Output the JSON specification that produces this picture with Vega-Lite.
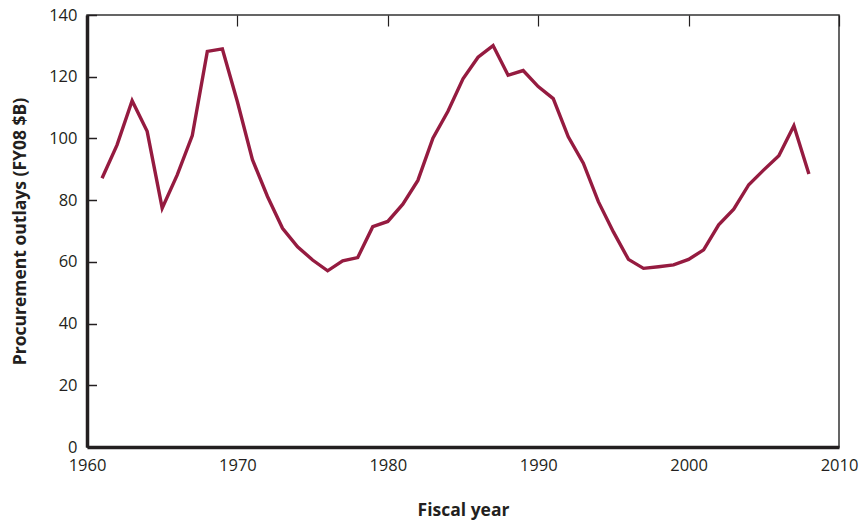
{
  "$schema": "https://vega.github.io/schema/vega-lite/v6.json",
  "width": 752,
  "height": 432,
  "autosize": {"type": "none"},
  "padding": {"left": 87, "top": 15, "right": 23, "bottom": 73},
  "background": "white",
  "config": {
    "font": "Open Sans",
    "view": {"stroke": "#333333", "strokeWidth": 1.5},
    "axis": {
      "labelFont": "Open Sans",
      "titleFont": "Open Sans",
      "labelFontSize": 16.5,
      "titleFontSize": 17.5,
      "labelColor": "#231f20",
      "titleColor": "#231f20",
      "domainColor": "#231f20",
      "tickColor": "#231f20",
      "gridColor": "#231f20",
      "gridOpacity": 1
    }
  },
  "data": {
    "values": [
      {"year": 1961, "outlays": 87.1},
      {"year": 1962, "outlays": 97.9},
      {"year": 1963, "outlays": 112.2},
      {"year": 1964, "outlays": 102.3},
      {"year": 1965, "outlays": 77.4},
      {"year": 1966, "outlays": 88.2},
      {"year": 1967, "outlays": 100.9},
      {"year": 1968, "outlays": 128.2},
      {"year": 1969, "outlays": 129.0},
      {"year": 1970, "outlays": 111.9},
      {"year": 1971, "outlays": 93.1},
      {"year": 1972, "outlays": 81.2},
      {"year": 1973, "outlays": 70.9},
      {"year": 1974, "outlays": 64.9},
      {"year": 1975, "outlays": 60.6},
      {"year": 1976, "outlays": 57.1},
      {"year": 1977, "outlays": 60.3},
      {"year": 1978, "outlays": 61.4},
      {"year": 1979, "outlays": 71.4},
      {"year": 1980, "outlays": 73.1},
      {"year": 1981, "outlays": 78.7},
      {"year": 1982, "outlays": 86.4},
      {"year": 1983, "outlays": 100.1},
      {"year": 1984, "outlays": 108.8},
      {"year": 1985, "outlays": 119.3},
      {"year": 1986, "outlays": 126.3},
      {"year": 1987, "outlays": 130.1},
      {"year": 1988, "outlays": 120.5},
      {"year": 1989, "outlays": 122.0},
      {"year": 1990, "outlays": 116.8},
      {"year": 1991, "outlays": 112.9},
      {"year": 1992, "outlays": 100.5},
      {"year": 1993, "outlays": 92.0},
      {"year": 1994, "outlays": 79.5},
      {"year": 1995, "outlays": 69.7},
      {"year": 1996, "outlays": 60.8},
      {"year": 1997, "outlays": 57.9},
      {"year": 1998, "outlays": 58.4},
      {"year": 1999, "outlays": 59.0},
      {"year": 2000, "outlays": 60.8},
      {"year": 2001, "outlays": 63.9},
      {"year": 2002, "outlays": 72.0},
      {"year": 2003, "outlays": 77.1},
      {"year": 2004, "outlays": 85.0},
      {"year": 2005, "outlays": 89.8},
      {"year": 2006, "outlays": 94.4},
      {"year": 2007, "outlays": 104.1},
      {"year": 2008, "outlays": 88.5}
    ]
  },
  "mark": {"type": "line", "color": "#951b40", "strokeWidth": 3.4, "strokeJoin": "miter"},
  "encoding": {
    "x": {
      "field": "year",
      "type": "quantitative",
      "scale": {"domain": [1960, 2010], "nice": false, "zero": false},
      "axis": {
        "title": "Fiscal year",
        "titleFontWeight": "bold",
        "titlePadding": 28,
        "values": [1960, 1970, 1980, 1990, 2000, 2010],
        "format": "d",
        "domainWidth": 3.5,
        "ticks": false,
        "grid": true,
        "gridDash": [11, 2000],
        "gridWidth": 1.2,
        "labelPadding": 10,
        "labelFlush": false
      }
    },
    "y": {
      "field": "outlays",
      "type": "quantitative",
      "scale": {"domain": [0, 140], "nice": false},
      "axis": {
        "title": "Procurement outlays (FY08 $B)",
        "titleFontWeight": "bold",
        "titlePadding": 19,
        "values": [0, 20, 40, 60, 80, 100, 120, 140],
        "domainWidth": 3.5,
        "ticks": false,
        "grid": true,
        "gridDash": [9.5, 2000],
        "gridWidth": 1.5,
        "labelPadding": 10
      }
    }
  }
}
